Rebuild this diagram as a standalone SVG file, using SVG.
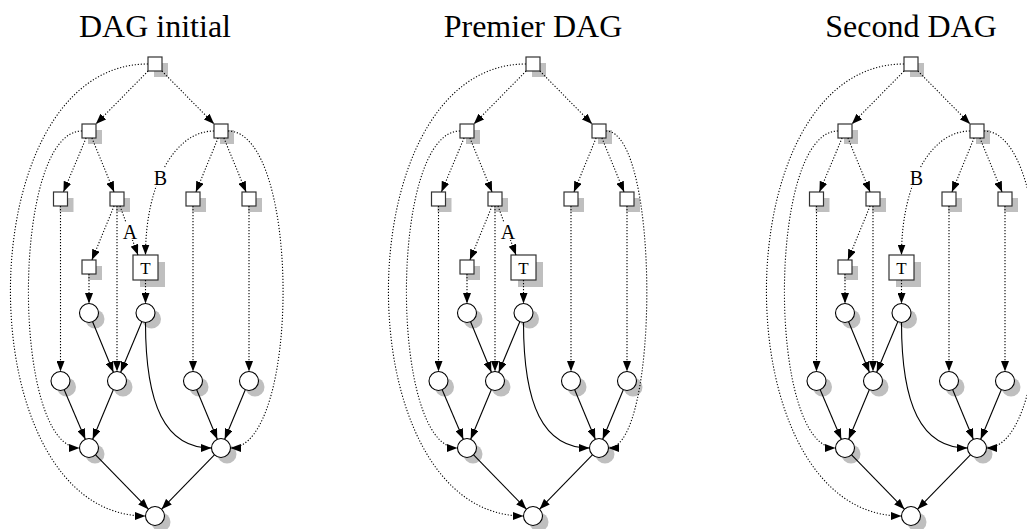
<svg xmlns="http://www.w3.org/2000/svg" width="1027" height="529" viewBox="0 0 1027 529">
<style>
.title{font-family:"Liberation Serif","DejaVu Serif",serif;font-size:32px;fill:#000;text-anchor:middle}
.lbl{font-family:"Liberation Serif","DejaVu Serif",serif;font-size:20px;fill:#000;text-anchor:middle}
.tl{font-family:"Liberation Serif","DejaVu Serif",serif;font-size:17px;fill:#000;text-anchor:middle}
.sh{fill:#bfbfbf;stroke:none}
.sq{fill:#fff;stroke:#333;stroke-width:1.2}
.ci{fill:#fff;stroke:#000;stroke-width:1.1}
.dot{fill:none;stroke:#000;stroke-width:1.1;stroke-dasharray:1.2 1.8;marker-end:url(#arr)}
.sol{fill:none;stroke:#000;stroke-width:1.1;marker-end:url(#arr)}
.bg{fill:#fff;stroke:none}
</style>
<defs>
<marker id="arr" viewBox="0 0 10.5 8" refX="10.5" refY="4" markerWidth="10.5" markerHeight="8" markerUnits="userSpaceOnUse" orient="auto"><path d="M0,0 L10.5,4 L0,8 z" fill="#000"/></marker>
</defs>
<rect width="1027" height="529" fill="#fff"/>

<!-- ============ DAG initial ============ -->
<g id="dag1">
<text class="title" x="155" y="37">DAG initial</text>
<g id="d1-s0"><rect class="sh" x="154" y="63" width="14" height="14"/><rect class="sq" x="148" y="57" width="14" height="14"/></g>
<g id="d1-s1"><rect class="sh" x="88" y="130" width="14" height="14"/><rect class="sq" x="82" y="124" width="14" height="14"/></g>
<g id="d1-s2"><rect class="sh" x="220" y="130" width="14" height="14"/><rect class="sq" x="214" y="124" width="14" height="14"/></g>
<g id="d1-s3"><rect class="sh" x="59.5" y="198" width="14" height="14"/><rect class="sq" x="53.5" y="192" width="14" height="14"/></g>
<g id="d1-s4"><rect class="sh" x="116" y="198" width="14" height="14"/><rect class="sq" x="110" y="192" width="14" height="14"/></g>
<g id="d1-s5"><rect class="sh" x="192" y="198" width="14" height="14"/><rect class="sq" x="186" y="192" width="14" height="14"/></g>
<g id="d1-s6"><rect class="sh" x="248" y="198" width="14" height="14"/><rect class="sq" x="242" y="192" width="14" height="14"/></g>
<g id="d1-s7"><rect class="sh" x="88" y="266" width="14" height="14"/><rect class="sq" x="82" y="260" width="14" height="14"/></g>
<g id="d1-t"><rect class="sh" x="140" y="262" width="25" height="25"/><rect class="sq" x="133" y="255" width="25" height="25"/><text class="tl" x="145.5" y="273.5">T</text></g>
<g id="d1-c1"><circle class="sh" cx="95" cy="319" r="9.5"/><circle class="ci" cx="89" cy="313" r="9.5"/></g>
<g id="d1-c2"><circle class="sh" cx="151.5" cy="319" r="9.5"/><circle class="ci" cx="145.5" cy="313" r="9.5"/></g>
<g id="d1-c3"><circle class="sh" cx="66.5" cy="387" r="9.5"/><circle class="ci" cx="60.5" cy="381" r="9.5"/></g>
<g id="d1-c4"><circle class="sh" cx="123" cy="387" r="9.5"/><circle class="ci" cx="117" cy="381" r="9.5"/></g>
<g id="d1-c5"><circle class="sh" cx="199" cy="387" r="9.5"/><circle class="ci" cx="193" cy="381" r="9.5"/></g>
<g id="d1-c6"><circle class="sh" cx="255" cy="387" r="9.5"/><circle class="ci" cx="249" cy="381" r="9.5"/></g>
<g id="d1-c7"><circle class="sh" cx="95" cy="454" r="9.5"/><circle class="ci" cx="89" cy="448" r="9.5"/></g>
<g id="d1-c8"><circle class="sh" cx="227" cy="454" r="9.5"/><circle class="ci" cx="221" cy="448" r="9.5"/></g>
<g id="d1-c9"><circle class="sh" cx="161" cy="522" r="9.5"/><circle class="ci" cx="155" cy="516" r="9.5"/></g>
<g id="d1-edges">
<path class="dot" d="M148.1,71 L95.9,124"/>
<path class="dot" d="M161.9,71 L214.1,124"/>
<path class="dot" d="M86.1,138 L63.4,192"/>
<path class="dot" d="M91.9,138 L114.1,192"/>
<path class="dot" d="M218.1,138 L195.9,192"/>
<path class="dot" d="M223.9,138 L246.1,192"/>
<path class="dot" d="M114.1,206 L91.9,260"/>
<path class="dot" d="M120,206 L138,255"/>
<path class="dot" d="M214,131 C174,131 145.5,185 145.5,255"/>
<path class="dot" d="M60.5,206 L60.5,371.5"/>
<path class="dot" d="M117,206 L117,371.5"/>
<path class="dot" d="M193,206 L193,371.5"/>
<path class="dot" d="M249,206 L249,371.5"/>
<path class="dot" d="M89,274 L89,303.5"/>
<path class="dot" d="M145.5,280 L145.5,303.5"/>
<path class="dot" d="M148,64 C-35,64 -35,516 145.5,516"/>
<path class="dot" d="M82,131 C11,131 11,448 79.5,448"/>
<path class="dot" d="M228,131 C301,131 301,448 230.5,448"/>
<path class="sol" d="M92.6,321.8 L113.4,372.2"/>
<path class="sol" d="M141.8,321.8 L120.7,372.2"/>
<path class="sol" d="M145.5,322.5 C145.5,405 165,448 211.5,448"/>
<path class="sol" d="M64.2,389.7 L85.3,439.3"/>
<path class="sol" d="M113.3,389.8 L92.7,439.2"/>
<path class="sol" d="M196.7,389.8 L217.3,439.2"/>
<path class="sol" d="M245.3,389.8 L224.7,439.2"/>
<path class="sol" d="M95.6,454.8 L148.4,509.2"/>
<path class="sol" d="M214.4,454.8 L161.6,509.2"/>
<rect class="bg" x="123" y="222" width="14" height="18"/>
<text class="lbl" x="130" y="239">A</text>
<rect class="bg" x="153" y="168" width="15" height="18"/>
<text class="lbl" x="160.5" y="185">B</text>
</g>
</g>

<!-- ============ Premier DAG ============ -->
<g id="dag2" transform="translate(378,0)">
<text class="title" x="155" y="37">Premier DAG</text>
<g id="d2-s0"><rect class="sh" x="154" y="63" width="14" height="14"/><rect class="sq" x="148" y="57" width="14" height="14"/></g>
<g id="d2-s1"><rect class="sh" x="88" y="130" width="14" height="14"/><rect class="sq" x="82" y="124" width="14" height="14"/></g>
<g id="d2-s2"><rect class="sh" x="220" y="130" width="14" height="14"/><rect class="sq" x="214" y="124" width="14" height="14"/></g>
<g id="d2-s3"><rect class="sh" x="59.5" y="198" width="14" height="14"/><rect class="sq" x="53.5" y="192" width="14" height="14"/></g>
<g id="d2-s4"><rect class="sh" x="116" y="198" width="14" height="14"/><rect class="sq" x="110" y="192" width="14" height="14"/></g>
<g id="d2-s5"><rect class="sh" x="192" y="198" width="14" height="14"/><rect class="sq" x="186" y="192" width="14" height="14"/></g>
<g id="d2-s6"><rect class="sh" x="248" y="198" width="14" height="14"/><rect class="sq" x="242" y="192" width="14" height="14"/></g>
<g id="d2-s7"><rect class="sh" x="88" y="266" width="14" height="14"/><rect class="sq" x="82" y="260" width="14" height="14"/></g>
<g id="d2-t"><rect class="sh" x="140" y="262" width="25" height="25"/><rect class="sq" x="133" y="255" width="25" height="25"/><text class="tl" x="145.5" y="273.5">T</text></g>
<g id="d2-c1"><circle class="sh" cx="95" cy="319" r="9.5"/><circle class="ci" cx="89" cy="313" r="9.5"/></g>
<g id="d2-c2"><circle class="sh" cx="151.5" cy="319" r="9.5"/><circle class="ci" cx="145.5" cy="313" r="9.5"/></g>
<g id="d2-c3"><circle class="sh" cx="66.5" cy="387" r="9.5"/><circle class="ci" cx="60.5" cy="381" r="9.5"/></g>
<g id="d2-c4"><circle class="sh" cx="123" cy="387" r="9.5"/><circle class="ci" cx="117" cy="381" r="9.5"/></g>
<g id="d2-c5"><circle class="sh" cx="199" cy="387" r="9.5"/><circle class="ci" cx="193" cy="381" r="9.5"/></g>
<g id="d2-c6"><circle class="sh" cx="255" cy="387" r="9.5"/><circle class="ci" cx="249" cy="381" r="9.5"/></g>
<g id="d2-c7"><circle class="sh" cx="95" cy="454" r="9.5"/><circle class="ci" cx="89" cy="448" r="9.5"/></g>
<g id="d2-c8"><circle class="sh" cx="227" cy="454" r="9.5"/><circle class="ci" cx="221" cy="448" r="9.5"/></g>
<g id="d2-c9"><circle class="sh" cx="161" cy="522" r="9.5"/><circle class="ci" cx="155" cy="516" r="9.5"/></g>
<g id="d2-edges">
<path class="dot" d="M148.1,71 L95.9,124"/>
<path class="dot" d="M161.9,71 L214.1,124"/>
<path class="dot" d="M86.1,138 L63.4,192"/>
<path class="dot" d="M91.9,138 L114.1,192"/>
<path class="dot" d="M218.1,138 L195.9,192"/>
<path class="dot" d="M223.9,138 L246.1,192"/>
<path class="dot" d="M114.1,206 L91.9,260"/>
<path class="dot" d="M120,206 L138,255"/>
<path class="dot" d="M60.5,206 L60.5,371.5"/>
<path class="dot" d="M117,206 L117,371.5"/>
<path class="dot" d="M193,206 L193,371.5"/>
<path class="dot" d="M249,206 L249,371.5"/>
<path class="dot" d="M89,274 L89,303.5"/>
<path class="dot" d="M145.5,280 L145.5,303.5"/>
<path class="dot" d="M148,64 C-35,64 -35,516 145.5,516"/>
<path class="dot" d="M82,131 C11,131 11,448 79.5,448"/>
<path class="dot" d="M228,131 C282,131 282,448 230.5,448"/>
<path class="sol" d="M92.6,321.8 L113.4,372.2"/>
<path class="sol" d="M141.8,321.8 L120.7,372.2"/>
<path class="sol" d="M145.5,322.5 C145.5,405 165,448 211.5,448"/>
<path class="sol" d="M64.2,389.7 L85.3,439.3"/>
<path class="sol" d="M113.3,389.8 L92.7,439.2"/>
<path class="sol" d="M196.7,389.8 L217.3,439.2"/>
<path class="sol" d="M245.3,389.8 L224.7,439.2"/>
<path class="sol" d="M95.6,454.8 L148.4,509.2"/>
<path class="sol" d="M214.4,454.8 L161.6,509.2"/>
<rect class="bg" x="123" y="222" width="14" height="18"/>
<text class="lbl" x="130" y="239">A</text>
</g>
</g>

<!-- ============ Second DAG ============ -->
<g id="dag3" transform="translate(756,0)">
<text class="title" x="155" y="37">Second DAG</text>
<g id="d3-s0"><rect class="sh" x="154" y="63" width="14" height="14"/><rect class="sq" x="148" y="57" width="14" height="14"/></g>
<g id="d3-s1"><rect class="sh" x="88" y="130" width="14" height="14"/><rect class="sq" x="82" y="124" width="14" height="14"/></g>
<g id="d3-s2"><rect class="sh" x="220" y="130" width="14" height="14"/><rect class="sq" x="214" y="124" width="14" height="14"/></g>
<g id="d3-s3"><rect class="sh" x="59.5" y="198" width="14" height="14"/><rect class="sq" x="53.5" y="192" width="14" height="14"/></g>
<g id="d3-s4"><rect class="sh" x="116" y="198" width="14" height="14"/><rect class="sq" x="110" y="192" width="14" height="14"/></g>
<g id="d3-s5"><rect class="sh" x="192" y="198" width="14" height="14"/><rect class="sq" x="186" y="192" width="14" height="14"/></g>
<g id="d3-s6"><rect class="sh" x="248" y="198" width="14" height="14"/><rect class="sq" x="242" y="192" width="14" height="14"/></g>
<g id="d3-s7"><rect class="sh" x="88" y="266" width="14" height="14"/><rect class="sq" x="82" y="260" width="14" height="14"/></g>
<g id="d3-t"><rect class="sh" x="140" y="262" width="25" height="25"/><rect class="sq" x="133" y="255" width="25" height="25"/><text class="tl" x="145.5" y="273.5">T</text></g>
<g id="d3-c1"><circle class="sh" cx="95" cy="319" r="9.5"/><circle class="ci" cx="89" cy="313" r="9.5"/></g>
<g id="d3-c2"><circle class="sh" cx="151.5" cy="319" r="9.5"/><circle class="ci" cx="145.5" cy="313" r="9.5"/></g>
<g id="d3-c3"><circle class="sh" cx="66.5" cy="387" r="9.5"/><circle class="ci" cx="60.5" cy="381" r="9.5"/></g>
<g id="d3-c4"><circle class="sh" cx="123" cy="387" r="9.5"/><circle class="ci" cx="117" cy="381" r="9.5"/></g>
<g id="d3-c5"><circle class="sh" cx="199" cy="387" r="9.5"/><circle class="ci" cx="193" cy="381" r="9.5"/></g>
<g id="d3-c6"><circle class="sh" cx="255" cy="387" r="9.5"/><circle class="ci" cx="249" cy="381" r="9.5"/></g>
<g id="d3-c7"><circle class="sh" cx="95" cy="454" r="9.5"/><circle class="ci" cx="89" cy="448" r="9.5"/></g>
<g id="d3-c8"><circle class="sh" cx="227" cy="454" r="9.5"/><circle class="ci" cx="221" cy="448" r="9.5"/></g>
<g id="d3-c9"><circle class="sh" cx="161" cy="522" r="9.5"/><circle class="ci" cx="155" cy="516" r="9.5"/></g>
<g id="d3-edges">
<path class="dot" d="M148.1,71 L95.9,124"/>
<path class="dot" d="M161.9,71 L214.1,124"/>
<path class="dot" d="M86.1,138 L63.4,192"/>
<path class="dot" d="M91.9,138 L114.1,192"/>
<path class="dot" d="M218.1,138 L195.9,192"/>
<path class="dot" d="M223.9,138 L246.1,192"/>
<path class="dot" d="M114.1,206 L91.9,260"/>
<path class="dot" d="M214,131 C174,131 145.5,185 145.5,255"/>
<path class="dot" d="M60.5,206 L60.5,371.5"/>
<path class="dot" d="M117,206 L117,371.5"/>
<path class="dot" d="M193,206 L193,371.5"/>
<path class="dot" d="M249,206 L249,371.5"/>
<path class="dot" d="M89,274 L89,303.5"/>
<path class="dot" d="M145.5,280 L145.5,303.5"/>
<path class="dot" d="M148,64 C-35,64 -35,516 145.5,516"/>
<path class="dot" d="M82,131 C11,131 11,448 79.5,448"/>
<path class="dot" d="M228,131 C301,131 301,448 230.5,448"/>
<path class="sol" d="M92.6,321.8 L113.4,372.2"/>
<path class="sol" d="M141.8,321.8 L120.7,372.2"/>
<path class="sol" d="M145.5,322.5 C145.5,405 165,448 211.5,448"/>
<path class="sol" d="M64.2,389.7 L85.3,439.3"/>
<path class="sol" d="M113.3,389.8 L92.7,439.2"/>
<path class="sol" d="M196.7,389.8 L217.3,439.2"/>
<path class="sol" d="M245.3,389.8 L224.7,439.2"/>
<path class="sol" d="M95.6,454.8 L148.4,509.2"/>
<path class="sol" d="M214.4,454.8 L161.6,509.2"/>
<rect class="bg" x="153" y="168" width="15" height="18"/>
<text class="lbl" x="160.5" y="185">B</text>
</g>
</g>
</svg>
